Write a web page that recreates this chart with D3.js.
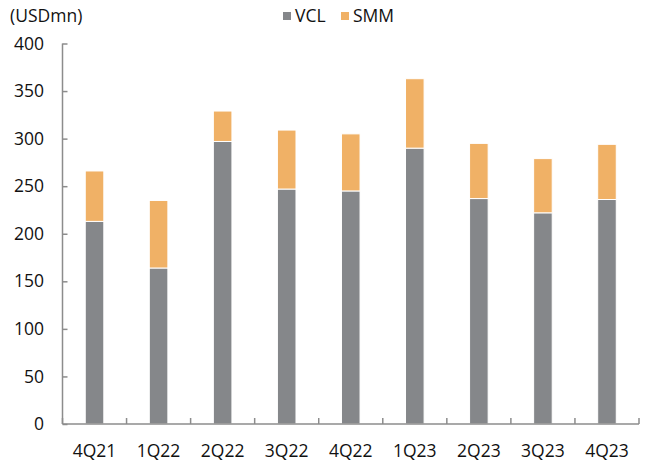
<!DOCTYPE html>
<html>
<head>
<meta charset="utf-8">
<script src="https://cdn.jsdelivr.net/npm/d3@7"></script>
<style>
  html, body { margin: 0; padding: 0; background: #fff; }
  svg text { font-family: "Open Sans", "Noto Sans", sans-serif; fill: #111; }
</style>
</head>
<body>
<svg id="chart" width="646" height="463"></svg>
<script>
// Quarterly revenue split, USD mn
const quarters = ["4Q21", "1Q22", "2Q22", "3Q22", "4Q22", "1Q23", "2Q23", "3Q23", "4Q23"];
const vcl = [213, 164, 297, 247, 245, 290, 237, 222, 236];
const smm = [53, 71, 32, 62, 60, 73, 58, 57, 58];
const seriesNames = ["VCL", "SMM"];
const seriesColors = ["#85878a", "#f0b166"];
const yTicks = [0, 50, 100, 150, 200, 250, 300, 350, 400];

const rows = quarters.map((q, i) => ({ quarter: q, VCL: vcl[i], SMM: smm[i] }));
const stacked = d3.stack().keys(seriesNames)(rows);

const svg = d3.select("#chart");
const x0 = 62.5, x1 = 639, yBottom = 424, yTop = 43.5;
const fontSize = 17.5;

const x = d3.scaleBand().domain(quarters).range([x0, x1]).paddingInner(0.71).paddingOuter(0.355);
const y = d3.scaleLinear().domain([0, 400]).range([yBottom, yTop]);
const color = d3.scaleOrdinal().domain(seriesNames).range(seriesColors);

// bars
svg.append("g").selectAll("g")
  .data(stacked)
  .join("g")
  .attr("fill", d => color(d.key))
  .selectAll("rect")
  .data(d => d)
  .join("rect")
  .attr("x", d => x(d.data.quarter))
  .attr("width", x.bandwidth())
  .attr("y", d => y(d[1]))
  .attr("height", d => y(d[0]) - y(d[1]))
  .attr("stroke", "#fff")
  .attr("stroke-width", 1);

const axisColor = "#8c8c8c";

// y axis: line with inward ticks
const yAxis = svg.append("g").attr("transform", `translate(${x0},0)`)
  .call(d3.axisRight(y).tickValues(yTicks).tickSize(5).tickFormat(""));
yAxis.select(".domain").remove();
yAxis.selectAll(".tick line").attr("stroke", axisColor).attr("stroke-width", 1.5);
svg.append("line").attr("x1", x0).attr("x2", x0).attr("y1", yTop).attr("y2", yBottom)
  .attr("stroke", axisColor).attr("stroke-width", 1.5);

// y tick labels
svg.append("g").selectAll("text")
  .data(yTicks)
  .join("text")
  .attr("x", 44)
  .attr("y", d => y(d))
  .attr("dy", "0.35em")
  .attr("text-anchor", "end")
  .attr("font-size", fontSize)
  .text(d => d);

// x axis: boundary ticks pointing up
const bounds = d3.range(quarters.length + 1).map(i => x0 + i * x.step());
svg.append("g").selectAll("line")
  .data(bounds)
  .join("line")
  .attr("x1", d => d).attr("x2", d => d)
  .attr("y1", yBottom).attr("y2", yBottom - 6)
  .attr("stroke", axisColor).attr("stroke-width", 1.5);
svg.append("line").attr("x1", x0).attr("x2", x1).attr("y1", yBottom).attr("y2", yBottom)
  .attr("stroke", axisColor).attr("stroke-width", 1.5);

// x labels
svg.append("g").selectAll("text")
  .data(quarters)
  .join("text")
  .attr("x", d => x(d) + x.bandwidth() / 2)
  .attr("y", 451)
  .attr("dy", "0.35em")
  .attr("text-anchor", "middle")
  .attr("font-size", fontSize)
  .text(d => d);

// unit label
svg.append("text").attr("x", 10).attr("y", 16).attr("dy", "0.35em")
  .attr("font-size", fontSize).text("(USDmn)");

// legend
const legendPos = [283, 341];
const legend = svg.append("g").selectAll("g")
  .data(seriesNames)
  .join("g")
  .attr("transform", (d, i) => `translate(${legendPos[i]},16)`);
legend.append("rect").attr("x", 0).attr("y", -4).attr("width", 8).attr("height", 8)
  .attr("fill", d => color(d));
legend.append("text").attr("x", 12).attr("dy", "0.35em").attr("font-size", fontSize).text(d => d);
</script>
</body>
</html>
